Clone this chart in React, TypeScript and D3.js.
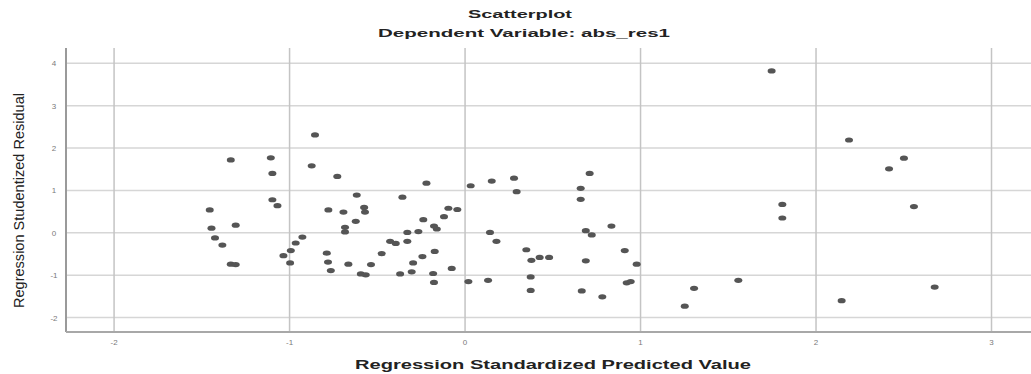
import React, { useEffect, useRef } from "react";
import * as d3 from "d3";

const predicted = [
  -0.855, -1.335, -1.107, -1.098, -0.874, -0.728, -0.22, 0.032, -0.617, -0.357,
  -1.098, -1.069, -1.455, -0.779, -0.693, -0.575, -0.57, -0.623, -0.095, -0.044,
  -0.238, -0.12, -1.445, -1.307, -0.684, -0.684, -0.329, -0.266, -0.177, -0.161,
  -1.425, -1.383, -0.927, -0.965, -0.993, -1.035, -0.997, -1.335, -1.307, -0.427,
  -0.395, -0.329, -0.475, -0.788, -0.781, -0.765, -0.665, -0.536, -0.594, -0.566,
  -0.37, -0.304, -0.296, -0.243, -0.173, -0.182, -0.177, -0.076, 0.019,
  0.152, 0.279, 0.294, 0.71, 0.659, 0.659, 0.142, 0.179, 0.688, 0.722,
  0.834, 0.349, 0.378, 0.425, 0.479, 0.688, 0.91, 0.978, 0.131, 0.374,
  0.374, 0.665, 0.782, 0.921, 0.944, 1.305, 1.252, 1.557,
  1.747, 2.188, 2.501, 2.416, 1.808, 1.808, 2.558, 2.146, 2.676,
];
const residual = [
  2.31, 1.72, 1.77, 1.4, 1.58, 1.33, 1.17, 1.11, 0.89, 0.84,
  0.78, 0.64, 0.54, 0.54, 0.49, 0.6, 0.49, 0.27, 0.58, 0.55,
  0.31, 0.38, 0.11, 0.18, 0.13, 0.02, 0.01, 0.03, 0.16, 0.09,
  -0.12, -0.29, -0.1, -0.24, -0.42, -0.54, -0.71, -0.74, -0.75, -0.2,
  -0.25, -0.2, -0.49, -0.48, -0.69, -0.89, -0.74, -0.75, -0.97, -0.99,
  -0.97, -0.92, -0.71, -0.56, -0.44, -0.96, -1.17, -0.84, -1.15,
  1.22, 1.29, 0.97, 1.4, 1.05, 0.79, 0.01, -0.2, 0.05, -0.05,
  0.16, -0.4, -0.65, -0.58, -0.58, -0.66, -0.42, -0.74, -1.12, -1.04,
  -1.36, -1.37, -1.51, -1.18, -1.15, -1.31, -1.73, -1.12,
  3.82, 2.19, 1.76, 1.51, 0.67, 0.35, 0.62, -1.6, -1.28,
];
const xTicks = [-2, -1, 0, 1, 2, 3];
const yTicks = [-2, -1, 0, 1, 2, 3, 4];

const title = "Scatterplot";
const subtitle = "Dependent Variable: abs_res1";
const xTitle = "Regression Standardized Predicted Value";
const yTitle = "Regression Studentized Residual";

const App = () => {
  const svgRef = useRef<SVGSVGElement>(null);

  useEffect(() => {
    const width = 1031;
    const height = 374;
    const margin = { top: 48, right: 0, bottom: 42, left: 66 };

    const svg = d3.select(svgRef.current);
    svg.selectAll("*").remove();
    svg.attr("width", width).attr("height", height);

    // plot spans a bit past the outer ticks, as in SPSS
    const x = d3
      .scaleLinear()
      .domain([-2.274, 3.225])
      .range([margin.left, width - margin.right]);
    const y = d3
      .scaleLinear()
      .domain([-2.34, 4.36])
      .range([height - margin.bottom, margin.top]);

    const font = "'Liberation Sans', Arial, sans-serif";

    // grid
    const grid = svg.append("g");
    grid
      .selectAll("line.h")
      .data(yTicks)
      .enter()
      .append("line")
      .attr("class", "h")
      .attr("x1", margin.left)
      .attr("x2", width - margin.right)
      .attr("y1", (d) => y(d))
      .attr("y2", (d) => y(d))
      .attr("stroke", "#d6d6d6")
      .attr("stroke-width", 1.5);
    grid
      .selectAll("line.v")
      .data(xTicks)
      .enter()
      .append("line")
      .attr("class", "v")
      .attr("x1", (d) => x(d))
      .attr("x2", (d) => x(d))
      .attr("y1", margin.top)
      .attr("y2", height - margin.bottom)
      .attr("stroke", "#c4c4c4")
      .attr("stroke-width", 1.5);

    // axis lines
    svg
      .append("line")
      .attr("x1", margin.left)
      .attr("x2", margin.left)
      .attr("y1", margin.top)
      .attr("y2", height - margin.bottom)
      .attr("stroke", "#9a9a9a")
      .attr("stroke-width", 2);
    svg
      .append("line")
      .attr("x1", margin.left)
      .attr("x2", width - margin.right)
      .attr("y1", height - margin.bottom)
      .attr("y2", height - margin.bottom)
      .attr("stroke", "#a8a8a8")
      .attr("stroke-width", 2);

    // tick labels
    svg
      .append("g")
      .selectAll("text")
      .data(xTicks)
      .enter()
      .append("text")
      .attr("x", (d) => x(d))
      .attr("y", height - margin.bottom + 13)
      .attr("text-anchor", "middle")
      .attr("font-family", font)
      .attr("font-size", 8)
      .attr("fill", "#7a7a7a")
      .text((d) => d);
    svg
      .append("g")
      .selectAll("text")
      .data(yTicks)
      .enter()
      .append("text")
      .attr("x", 54)
      .attr("y", (d) => y(d) + 3)
      .attr("text-anchor", "middle")
      .attr("font-family", font)
      .attr("font-size", 8)
      .attr("fill", "#7a7a7a")
      .text((d) => d);

    // points
    const points = predicted.map((p, i) => ({ p, r: residual[i] }));
    svg
      .append("g")
      .selectAll("ellipse")
      .data(points)
      .enter()
      .append("ellipse")
      .attr("cx", (d) => x(d.p))
      .attr("cy", (d) => y(d.r))
      .attr("rx", 4)
      .attr("ry", 2.6)
      .attr("fill", "#555555");

    // titles (the reference is stretched sideways, hence textLength)
    svg
      .append("text")
      .attr("x", 468)
      .attr("y", 18)
      .attr("font-family", font)
      .attr("font-weight", "bold")
      .attr("font-size", 11)
      .attr("fill", "#222")
      .attr("textLength", 104)
      .attr("lengthAdjust", "spacingAndGlyphs")
      .text(title);
    svg
      .append("text")
      .attr("x", 378)
      .attr("y", 37)
      .attr("font-family", font)
      .attr("font-weight", "bold")
      .attr("font-size", 11)
      .attr("fill", "#222")
      .attr("textLength", 292)
      .attr("lengthAdjust", "spacingAndGlyphs")
      .text(subtitle);
    svg
      .append("text")
      .attr("x", 355)
      .attr("y", 369)
      .attr("font-family", font)
      .attr("font-weight", "bold")
      .attr("font-size", 12)
      .attr("fill", "#222")
      .attr("textLength", 396)
      .attr("lengthAdjust", "spacingAndGlyphs")
      .text(xTitle);
    svg
      .append("text")
      .attr("transform", "translate(24,308) rotate(-90)")
      .attr("font-family", font)
      .attr("font-size", 14)
      .attr("fill", "#222")
      .attr("textLength", 215)
      .attr("lengthAdjust", "spacingAndGlyphs")
      .text(yTitle);
  }, []);

  return (
    <div style={{ position: "absolute", left: 0, top: 0, background: "#fff" }}>
      <svg ref={svgRef}></svg>
    </div>
  );
};

export default App;
